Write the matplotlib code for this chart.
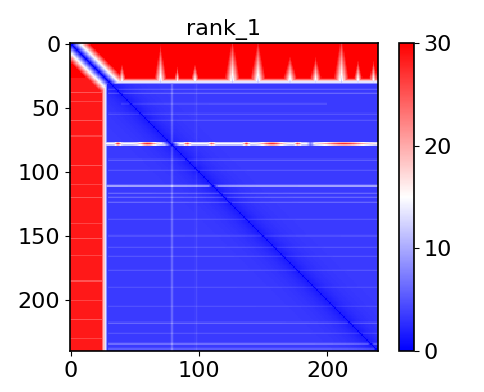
import numpy as np
import matplotlib.pyplot as plt

n_res = 240
top_edge = 32       # rows above this are far from everything else
left_edge = 29      # columns left of this are far from everything else
base_dist = 3.5
top_slope = 5.0
left_slope = 5.0
diag_slope = 2.0
left_cap = 28.5

# white streaks hanging down from the top band
spike_cols = [40, 70, 83, 97, 126, 146, 171, 191, 211, 224, 236]
spike_reach = [10, 20, 9, 10, 23, 22, 14, 14, 24, 12, 12]
spike_width = [2.0, 2.5, 1.5, 2.0, 3.0, 3.0, 3.0, 2.5, 3.0, 2.0, 2.0]

# bright line across the blue block
line_row = 78
line_level = 15.0
spot_cols = [37, 60, 91, 110, 137, 157, 177, 213]
spot_width = [2, 6, 2, 2, 2, 8, 2, 16]
spot_vals = [26, 27, 25, 24, 26, 27, 25, 27]
gap_cols = [187]
gap_vals = [8]

# lighter streaks inside the blue block: row, first col, last col, strength
streak_rows = [36, 39, 47, 55, 60, 91, 99, 111, 117, 120, 124, 137, 150, 159, 166, 177, 190, 205, 218, 226, 234, 238]
streak_start = [30, 30, 40, 30, 60, 30, 30, 28, 30, 30, 30, 30, 30, 30, 30, 30, 30, 30, 30, 30, 30, 30]
streak_end = [240, 240, 200, 240, 240, 240, 240, 240, 240, 240, 240, 240, 240, 240, 240, 240, 240, 240, 240, 240, 240, 240]
streak_vals = [2.0, 2.5, 1.2, 1.5, 1.5, 2.0, 1.5, 6.0, 2.5, 2.5, 2.5, 1.5, 1.2, 1.5, 1.5, 1.5, 1.2, 1.2, 2.5, 1.5, 3.0, 2.0]
faint_cols = [79, 98]
faint_col_vals = [2.5, 1.0]

# paler rows in the left red band
left_pale_rows = [38, 45, 60, 72, 95, 110, 120, 140, 152, 165, 185, 200, 215, 230]
left_pale_vals = [25, 26, 25, 26, 25, 26, 25, 26, 25, 26, 25, 26, 25, 26]

ii, jj = np.indices((n_res, n_res)).astype(float)
cols = np.arange(n_res, dtype=float)
sep = np.abs(ii - jj)

# top band
depth = top_edge - ii
top = np.where(ii < top_edge, base_dist + top_slope * depth, 0.0)
for c, r, w in zip(spike_cols, spike_reach, spike_width):
    wedge = 11.0 + 12.0 * depth / r + 8.0 * np.abs(jj - c) / w
    top = np.where(ii < top_edge, np.minimum(top, np.maximum(wedge, base_dist)), top)

# left band
cap = np.full(n_res, left_cap)
for r, v in zip(left_pale_rows, left_pale_vals):
    cap[int(r)] = v
left = np.where(jj < left_edge, base_dist + left_slope * (left_edge - jj), 0.0)
left = np.minimum(left, cap[:, None])

# blue block with streaks and a darker zone round the diagonal
blue = np.full((n_res, n_res), base_dist)
for r, a, b, v in zip(streak_rows, streak_start, streak_end, streak_vals):
    on = (cols >= a) & (cols < b)
    blue[r, on] += v
    blue[r - 1, on] += 0.3 * v
for c, v in zip(faint_cols, faint_col_vals):
    blue += v * np.exp(-((cols[None, :] - c) / 0.8) ** 2)
blue -= 2.0 * np.exp(-sep / 12.0)

dist = np.maximum(np.maximum(top, left), blue)

# bright line
line = np.full(n_res, line_level)
for c, w, v in zip(spot_cols, spot_width, spot_vals):
    line = np.maximum(line, line_level + (v - line_level) * np.exp(-((cols - c) / w) ** 2))
for c, v in zip(gap_cols, gap_vals):
    line = line - (line - v) * np.exp(-((cols - c) / 2.0) ** 2)
mask = cols >= left_edge - 1
for r, f in [(line_row, 1.0), (line_row - 1, 0.7), (line_row + 1, 0.7)]:
    vals = base_dist + f * (line - base_dist)
    dist[r, mask] = np.maximum(dist[r, mask], vals[mask])

# diagonal band
dist = np.minimum(dist, diag_slope * sep)

fig = plt.figure(figsize=(4.84, 3.92), dpi=100)
ax = fig.add_axes([70 / 484, 41 / 392, 308 / 484, 308 / 392])
cax = fig.add_axes([399 / 484, 41 / 392, 15 / 484, 308 / 392])

im = ax.imshow(dist, cmap="bwr", vmin=0, vmax=30, aspect="auto", interpolation="nearest")
ax.set_title("rank_1", fontsize=16)
ax.set_xticks([0, 100, 200])
ax.set_yticks([0, 50, 100, 150, 200])
ax.tick_params(labelsize=16)

cb = fig.colorbar(im, cax=cax, ticks=[0, 10, 20, 30])
cb.ax.tick_params(labelsize=16)

for a in (ax, cax):
    for sp in a.spines.values():
        sp.set_linewidth(1.2)

fig.savefig("out.png", dpi=100)
